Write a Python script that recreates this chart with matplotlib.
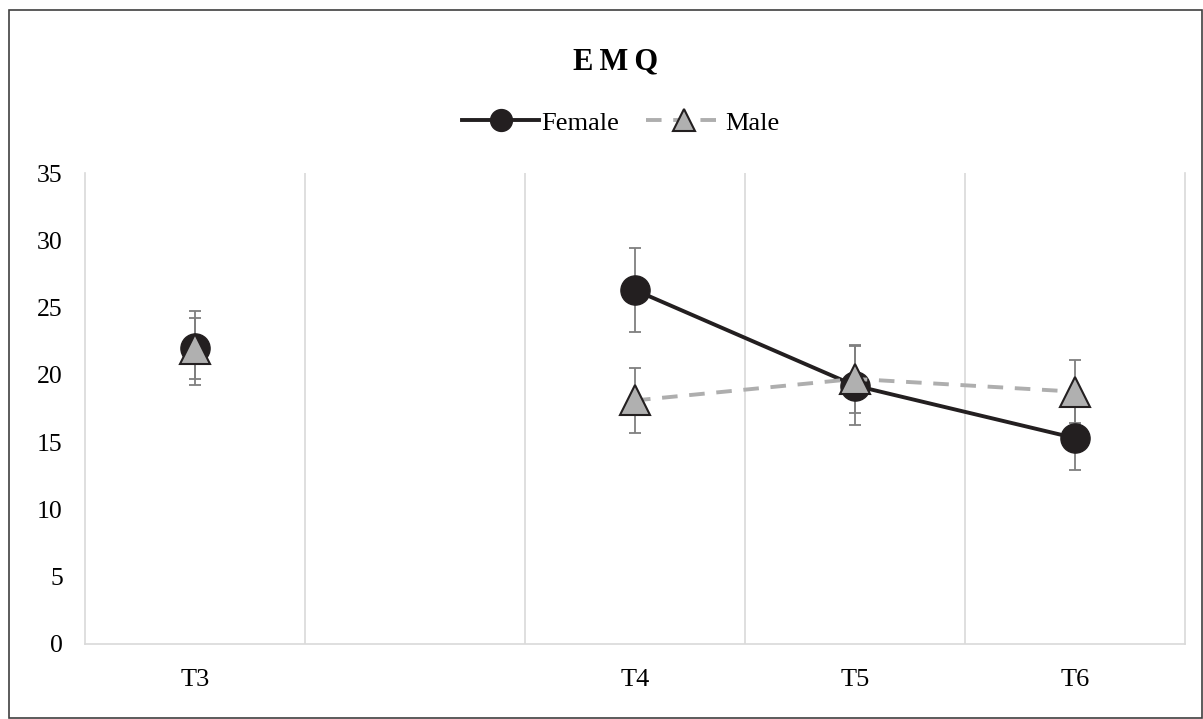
import numpy as np
import matplotlib
matplotlib.use("Agg")
import matplotlib.pyplot as plt
from matplotlib.patches import Rectangle

plt.rcParams['font.family'] = ['Liberation Serif', 'DejaVu Serif']

# data (empty slot between T3 and T4)
categories = ["T3", "", "T4", "T5", "T6"]
female_mean = [22.0, np.nan, 26.3, 19.2, 15.3]
female_err = [2.75, np.nan, 3.15, 2.95, 2.4]
male_mean = [21.95, np.nan, 18.1, 19.7, 18.75]
male_err = [2.25, np.nan, 2.4, 2.55, 2.35]

x = np.arange(len(categories))

fig = plt.figure(figsize=(12.03, 7.19), dpi=100)
ax = fig.add_axes([85 / 1203, 1 - 644 / 719, 1100 / 1203, 471 / 719])

err_kw = dict(fmt="none", ecolor="#7f7f7f", elinewidth=1.3, capsize=4.5, capthick=1.3)
ax.errorbar(x, female_mean, yerr=female_err, zorder=2, **err_kw)
ax.errorbar(x, male_mean, yerr=male_err, zorder=2, **err_kw)

ax.plot(x, female_mean, color="#231f20", lw=2.8, marker="o", markersize=21,
        markerfacecolor="#231f20", markeredgecolor="#231f20", label="Female", zorder=3)
ax.plot(x, male_mean, color="#aeaeae", lw=2.8, dashes=(4, 3), marker="^", markersize=21,
        markerfacecolor="#b0b0b0", markeredgecolor="#231f20", markeredgewidth=1.5,
        label="Male", zorder=4)

ax.set_xlim(-0.5, len(categories) - 0.5)
ax.set_ylim(0, 35)
ax.set_yticks(range(0, 36, 5))
ax.set_xticks(x)
ax.set_xticklabels(categories)

# vertical gridlines on category boundaries
for b in np.arange(0.5, len(categories) - 0.5, 1):
    ax.axvline(b, color="#d9d9d9", lw=1.2, zorder=0)

for side in ["left", "right", "bottom"]:
    ax.spines[side].set_color("#d9d9d9")
    ax.spines[side].set_linewidth(1.2)
ax.spines["top"].set_visible(False)
ax.tick_params(axis="both", length=0, colors="#000000")
ax.tick_params(axis="y", pad=16, labelsize=18.5)
ax.tick_params(axis="x", pad=18, labelsize=19)

fig.text(0.512, 1 - 62 / 719, "E\u2009M\u2009Q", ha="center", va="center",
         fontsize=22, fontweight="bold")

leg = fig.legend(loc="center", bbox_to_anchor=(0.516, 1 - 123 / 719), ncol=2,
                 frameon=False, fontsize=19, handlelength=2.9, handletextpad=0.1,
                 columnspacing=1.0, markerscale=0.75)

# outer chart border
fig.patches.append(Rectangle((9 / 1203, 1 / 719), 1193 / 1203, 708 / 719,
                             transform=fig.transFigure, fill=False,
                             edgecolor="#404040", lw=1.2))

fig.savefig("out.png", dpi=100)
